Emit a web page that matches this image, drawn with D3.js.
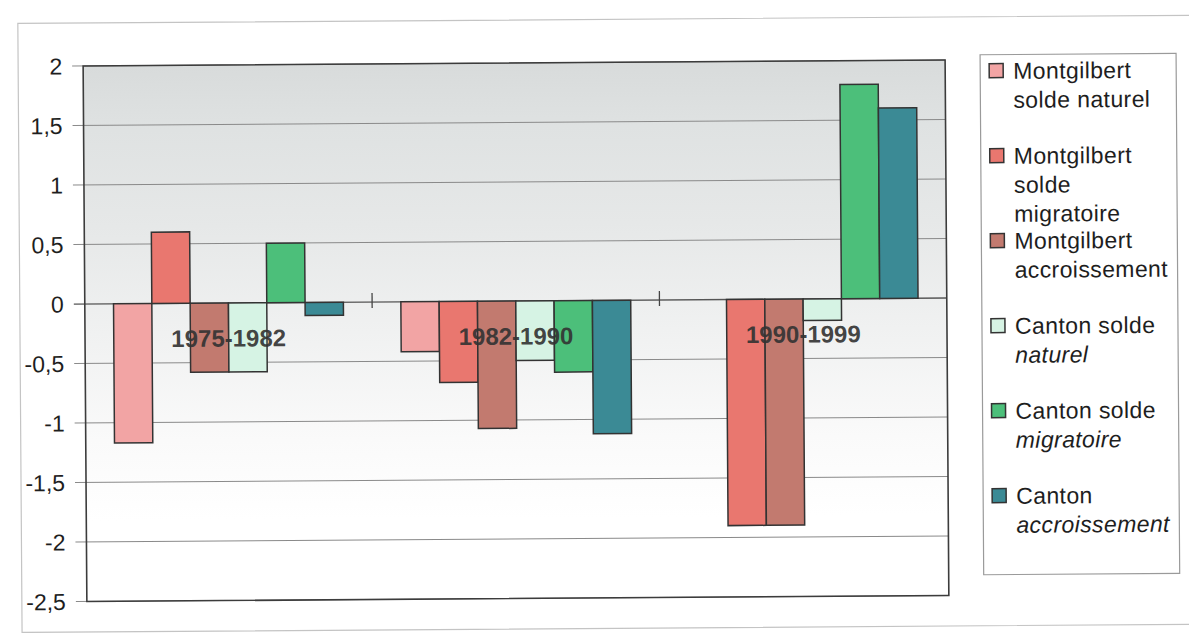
<!DOCTYPE html>
<html lang="fr">
<head>
<meta charset="utf-8">
<script src="https://cdn.jsdelivr.net/npm/d3@7"></script>
<style>
  html, body { margin: 0; padding: 0; background: #fff; }
  svg { display: block; }
  svg text { font-family: "Liberation Sans", Arial, Helvetica, sans-serif; }
</style>
</head>
<body>
<svg id="chart" width="1189" height="633"></svg>
<script>
// Périodes intercensitaires
const periods = ["1975-1982", "1982-1990", "1990-1999"];

// Séries : taux annuels moyens (%)
const montgilbertNaturel    = [-1.17, -0.42, 0];
const montgilbertMigratoire = [0.6, -0.68, -1.9];
const montgilbertAccrois    = [-0.58, -1.07, -1.9];
const cantonNaturel         = [-0.58, -0.5, -0.18];
const cantonMigratoire      = [0.5, -0.6, 1.8];
const cantonAccrois         = [-0.11, -1.12, 1.6];

// Libellés de légende (une entrée par ligne affichée)
const legendLabels = [
  ["Montgilbert", "solde naturel"],
  ["Montgilbert", "solde", "migratoire"],
  ["Montgilbert", "accroissement"],
  ["Canton solde", "naturel"],
  ["Canton solde", "migratoire"],
  ["Canton", "accroissement"]
];
const legendItalicFrom = [9, 9, 9, 1, 1, 1];

const yTicks = [2, 1.5, 1, 0.5, 0, -0.5, -1, -1.5, -2, -2.5];

const seriesValues = [
  montgilbertNaturel, montgilbertMigratoire, montgilbertAccrois,
  cantonNaturel, cantonMigratoire, cantonAccrois
];
const colors = ["#f2a4a4", "#e9776f", "#c27a6f", "#d6f3e4", "#4cbf7a", "#3b8a95"];

const svg = d3.select("#chart");

// léger basculement de l'ensemble
const root = svg.append("g").attr("transform", "rotate(-0.4 516 333)");

// cadre extérieur
root.append("rect")
  .attr("x", 20).attr("y", 20).attr("width", 1190).attr("height", 609)
  .attr("fill", "none").attr("stroke", "#c4c4c4").attr("stroke-width", 1.2);

const plot = { left: 85, right: 947 };
const y = d3.scaleLinear().domain([-2.5, 2]).range([598.5, 63]);
const x0 = d3.scaleBand().domain(periods).range([plot.left, plot.right]);
const bw = x0.bandwidth();
// six barres par groupe, écart de 150 % de la largeur d'une barre
const barW = bw / 7.5;
const x1 = d3.scaleBand().domain(d3.range(6)).range([barW * 0.75, bw - barW * 0.75]);

// fond dégradé de la zone de tracé
const defs = svg.append("defs");
const grad = defs.append("linearGradient").attr("id", "bg").attr("x1", 0).attr("x2", 0).attr("y1", 0).attr("y2", 1);
[[0, "#d8dbdb"], [0.12, "#dfe2e2"], [0.3, "#e6e8e8"], [0.5, "#f0f1f1"], [0.7, "#fafafa"], [0.85, "#ffffff"], [1, "#ffffff"]]
  .forEach(([o, c]) => grad.append("stop").attr("offset", o).attr("stop-color", c));

root.append("rect")
  .attr("x", plot.left).attr("y", y(2))
  .attr("width", plot.right - plot.left).attr("height", y(-2.5) - y(2))
  .attr("fill", "url(#bg)");

// quadrillage + graduations de l'axe Y
root.append("g").selectAll("line").data(yTicks).join("line")
  .attr("x1", plot.left - 11).attr("x2", plot.right)
  .attr("y1", d => y(d)).attr("y2", d => y(d))
  .attr("stroke", d => d === 0 ? "#555" : "#8a8a8a")
  .attr("stroke-width", d => d === 0 ? 1.3 : 1);

root.append("g").selectAll("text").data(yTicks).join("text")
  .attr("x", 64).attr("y", d => y(d))
  .attr("dy", "0.36em")
  .attr("text-anchor", "end")
  .attr("font-size", 23)
  .attr("fill", "#1e1e1e")
  .text(d => String(d).replace(".", ","));

// barres
const bars = root.append("g");
seriesValues.forEach((vals, si) => {
  bars.selectAll(null).data(vals.map((v, gi) => ({ v, gi }))).join("rect")
    .attr("x", d => x0(periods[d.gi]) + x1(si))
    .attr("width", x1.bandwidth())
    .attr("y", d => y(Math.max(0, d.v)))
    .attr("height", d => Math.abs(y(d.v) - y(0)))
    .attr("fill", colors[si])
    .attr("stroke", "#333")
    .attr("stroke-width", 1.5);
});

// graduations de l'axe des catégories sur la ligne du zéro
root.append("g").selectAll("line").data(periods.slice(1)).join("line")
  .attr("x1", d => x0(d)).attr("x2", d => x0(d))
  .attr("y1", y(0) - 9).attr("y2", y(0) + 6)
  .attr("stroke", "#444").attr("stroke-width", 1.3);

// étiquettes des périodes
root.append("g").selectAll("text").data(periods).join("text")
  .attr("x", d => x0(d) + bw / 2)
  .attr("y", y(0) + 35)
  .attr("dy", "0.36em")
  .attr("text-anchor", "middle")
  .attr("font-size", 24)
  .attr("font-weight", "bold")
  .attr("fill", "#333")
  .attr("fill-opacity", 0.92)
  .text(d => d);

// cadre de la zone de tracé
root.append("rect")
  .attr("x", plot.left).attr("y", y(2))
  .attr("width", plot.right - plot.left).attr("height", y(-2.5) - y(2))
  .attr("fill", "none").attr("stroke", "#3c3c3c").attr("stroke-width", 1.6);

// légende
const lg = root.append("g");
lg.append("rect")
  .attr("x", 982).attr("y", 58).attr("width", 196).attr("height", 520)
  .attr("fill", "#fff").attr("stroke", "#9a9a9a").attr("stroke-width", 1.2);

const entryStep = 85, lineStep = 29, firstLine = 74;
legendLabels.forEach((lines, i) => {
  const cy = firstLine + i * entryStep;
  lg.append("rect")
    .attr("x", 991).attr("y", cy - 7).attr("width", 14).attr("height", 14)
    .attr("fill", colors[i]).attr("stroke", "#333").attr("stroke-width", 1.5);
  lines.forEach((t, li) => {
    lg.append("text")
      .attr("x", 1015).attr("y", cy + li * lineStep)
      .attr("dy", "0.36em")
      .attr("font-size", 23)
      .attr("letter-spacing", 0.4)
      .attr("font-style", li >= legendItalicFrom[i] ? "italic" : "normal")
      .attr("fill", "#1e1e1e")
      .text(t);
  });
});
</script>
</body>
</html>
